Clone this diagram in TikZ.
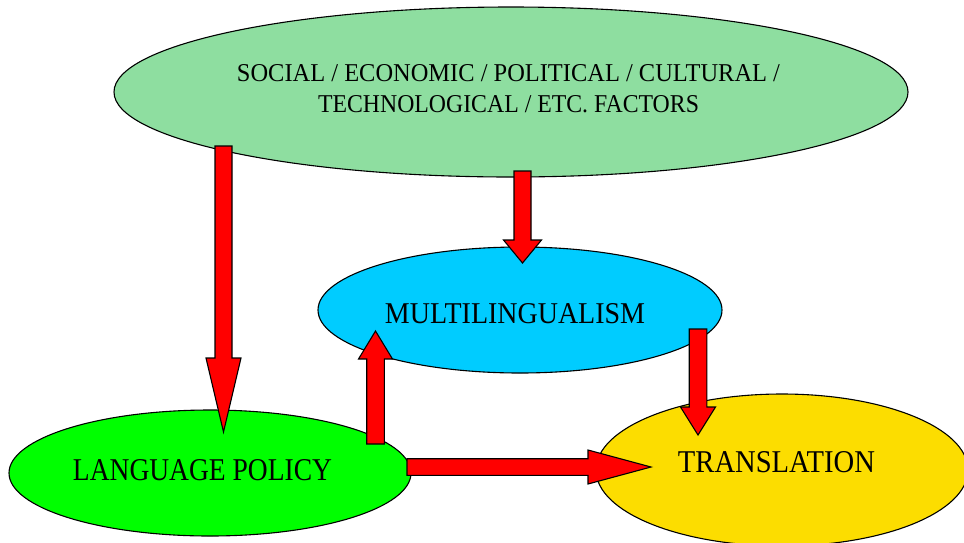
\documentclass[tikz,border=0pt]{standalone}
\usepackage{fontspec}
\setmainfont{Liberation Serif}
\usetikzlibrary{shapes.geometric,calc}
\definecolor{topgreen}{RGB}{142,222,160}
\definecolor{multiblue}{RGB}{0,204,255}
\definecolor{lpgreen}{RGB}{0,255,0}
\definecolor{transyellow}{RGB}{252,221,0}
\definecolor{arrowred}{RGB}{255,0,0}
\tikzset{
  bubble/.style={ellipse, draw=black, line width=1.1pt, inner sep=0pt},
  blocktip/.style={fill=arrowred, draw=black, line width=1.1pt, line join=miter},
  lbl/.style={anchor=base, inner sep=0pt}
}
% #1 start, #2 tip, #3 half shaft width, #4 half head width, #5 head length
\newcommand\blockarrow[5]{%
  \coordinate (hb) at ($(#2)!#5!(#1)$);
  \draw[blocktip] ($(#1)!#3!90:(#2)$) -- ($(hb)!#3!-90:(#1)$) -- ($(hb)!#4!-90:(#1)$)
    -- (#2) -- ($(hb)!#4!90:(#1)$) -- ($(hb)!#3!90:(#1)$) -- ($(#1)!#3!-90:(#2)$) -- cycle;}
\begin{document}
\begin{tikzpicture}[x=1pt,y=-1pt]
\useasboundingbox (0,0) rectangle (964,542);
\fill[white] (0,0) rectangle (964,542);
% ellipses
\node[bubble, fill=topgreen, minimum width=794pt, minimum height=170pt] (factors) at (511,92) {};
\node[bubble, fill=multiblue, minimum width=404pt, minimum height=126pt] (multi) at (520,310) {};
\node[bubble, fill=lpgreen, minimum width=402pt, minimum height=126pt] (policy) at (210,473) {};
\node[bubble, fill=transyellow, minimum width=372pt, minimum height=152pt] (trans) at (782,470) {};
% labels
\node[lbl] (f1) at (508.5,81) {\resizebox{543pt}{17pt}{SOCIAL / ECONOMIC / POLITICAL / CULTURAL /}};
\node[lbl] (f2) at (508.5,112) {\resizebox{381pt}{17pt}{TECHNOLOGICAL / ETC. FACTORS}};
\node[lbl] (mtext) at (515,323) {\resizebox{260pt}{20pt}{MULTILINGUALISM}};
\node[lbl] (ptext) at (202.5,480) {\resizebox{259pt}{21pt}{LANGUAGE POLICY}};
\node[lbl] (ttext) at (776.5,472) {\resizebox{197pt}{21pt}{TRANSLATION}};
% arrow anchor points
\coordinate (a1s) at (223.5,146); \coordinate (a1t) at (223.5,432);
\coordinate (a2s) at (522.5,171); \coordinate (a2t) at (522.5,263);
\coordinate (a3s) at (375.5,444); \coordinate (a3t) at (375.5,331);
\coordinate (a4s) at (407,467);   \coordinate (a4t) at (651,467);
\coordinate (a5s) at (698,329);   \coordinate (a5t) at (698,435);
% block arrows
\blockarrow{a1s}{a1t}{8.5pt}{17.5pt}{74pt}
\blockarrow{a2s}{a2t}{8.5pt}{19pt}{23pt}
\blockarrow{a3s}{a3t}{8.8pt}{17pt}{28pt}
\blockarrow{a4s}{a4t}{8.3pt}{17pt}{63pt}
\blockarrow{a5s}{a5t}{8.8pt}{17.5pt}{28pt}
\end{tikzpicture}
\end{document}
